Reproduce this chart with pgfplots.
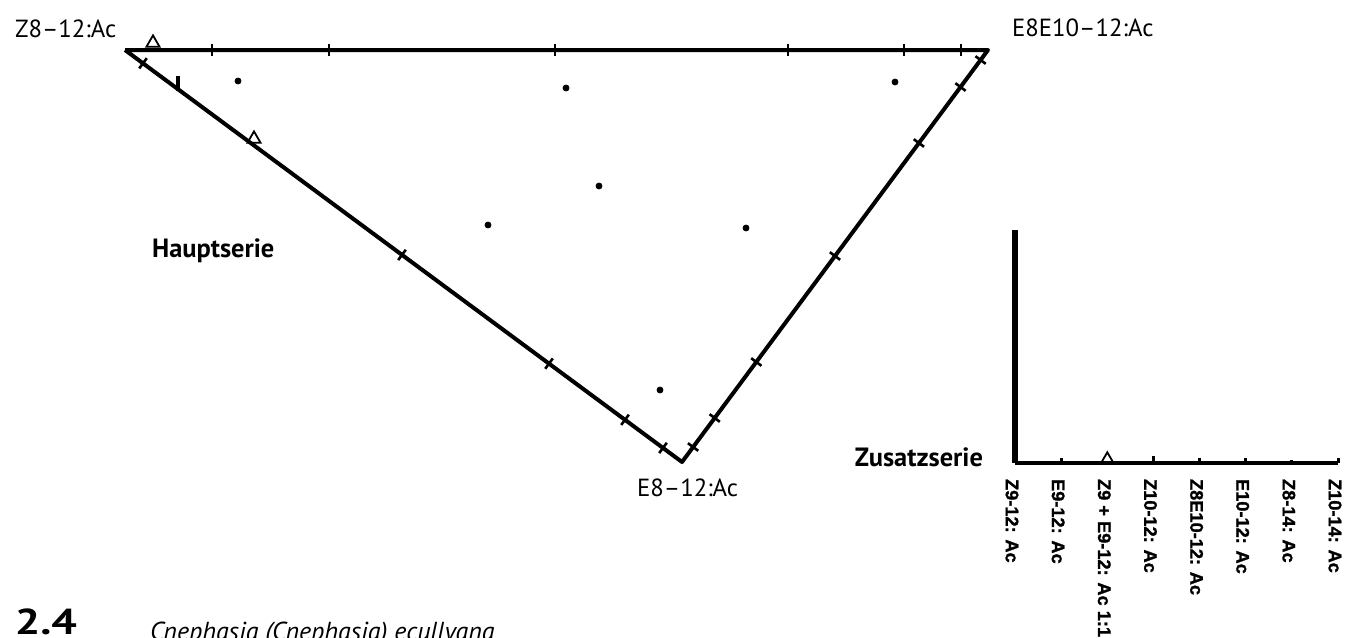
\documentclass[border=0pt]{standalone}
\usepackage{pgfplots}
\pgfplotsset{compat=1.18}
\usepackage{fontspec}
\setmainfont{PT Sans}
\newfontfamily\labfont[FakeBold=1.2]{Liberation Sans Bold}

% picture is laid out in reference pixels, 1px = 0.5pt
\begin{document}
\begin{tikzpicture}
\useasboundingbox (0,0) rectangle (676.5pt,318.5pt);
\clip (0,0) rectangle (676.5pt,318.5pt);

% Hauptserie: triangle diagram
\begin{axis}[
    at={(0pt,0pt)}, anchor=south west,
    scale only axis, width=676.5pt, height=318.5pt,
    xmin=0, xmax=1353, ymin=0, ymax=637,
    y dir=reverse,
    hide axis, clip=false,
]
\addplot[black, line width=2pt, line join=round] coordinates {
    (125,50) (988,50) (682,462) (125,50)
};
% ticks on top edge
\addplot[only marks, mark=|, mark size=3.2pt, mark options={line width=1.2pt}] coordinates {
    (212,50) (329,50) (555,50) (788,50) (904,50) (961,50)
};
% ticks on left edge
\addplot[only marks, mark=|, mark size=3.2pt, mark options={line width=1.3pt, rotate=-36.5}] coordinates {
    (143,63.3) (402,254.9) (549,363.6) (625,419.8) (663,447.9)
};
% ticks on right edge
\addplot[only marks, mark=|, mark size=3.2pt, mark options={line width=1.3pt, rotate=53.4}] coordinates {
    (980.6,60) (960.5,87) (918.9,143) (835,256) (756.3,362) (714.7,418) (693.1,447)
};
\addplot[black, line width=2.4pt] coordinates {(178,76) (178,91)};
% open triangles
\addplot[only marks, mark=triangle, mark size=3.8pt, mark options={fill=white, line width=0.9pt}] coordinates {
    (153,43) (254,139)
};
% dots
\addplot[only marks, mark=*, mark size=1.5pt] coordinates {
    (238,81) (566,88) (895,82) (599,186) (488,225) (746,228) (660,390)
};

\node[anchor=base west, font=\fontsize{12.4}{14}\selectfont] at (axis cs:8,37) {Z8–12:Ac};
\node[anchor=base west, font=\fontsize{12.4}{14}\selectfont] at (axis cs:1005,36) {E8E10–12:Ac};
\node[anchor=base west, font=\fontsize{12.4}{14}\selectfont] at (axis cs:630,496) {E8–12:Ac};
\node[anchor=base west, font=\bfseries\fontsize{13.2}{15}\selectfont] at (axis cs:145,257) {Hauptserie};
\node[anchor=base east, font=\bfseries\fontsize{13.2}{15}\selectfont] at (axis cs:990,466) {Zusatzserie};
\node[anchor=base west, xscale=1.25, font=\bfseries\fontsize{18}{20}\selectfont] at (axis cs:6,634) {2.4};
\node[anchor=base west, font=\itshape\fontsize{13}{15}\selectfont] at (axis cs:143,640) {Cnephasia (Cnephasia) ecullyana};
\end{axis}

% Zusatzserie: small comb chart
\begin{axis}[
    at={(507.5pt,87pt)}, anchor=south west,
    scale only axis, width=161.5pt, height=116.5pt,
    xmin=0, xmax=7, ymin=0, ymax=100,
    axis x line=bottom, axis y line=none,
    axis line style={-, line width=1.8pt},
    xtick={0,...,7},
    xticklabels={Z9-12: Ac, E9-12: Ac, Z9 + E9-12: Ac 1:1, Z10-12: Ac, Z8E10-12: Ac, E10-12: Ac, Z8-14: Ac, Z10-14: Ac},
    major tick length=0pt,
    xticklabel style={rotate=-90, anchor=west, xshift=4.5pt, yshift=-1.5pt, font=\labfont\fontsize{9.1}{10}\selectfont},
    clip=false,
]
\addplot[ycomb, black, line width=2.8pt] coordinates {(0,100)};
\addplot[ycomb, black, line width=1.5pt, mark=none] coordinates {
    (1,2) (3,3) (4,2) (5,2.2) (6,1.5) (7,2)
};
\addplot[only marks, mark=triangle, mark size=3.5pt, mark options={fill=white, line width=0.9pt}] coordinates {(2,1.6)};
\end{axis}
\end{tikzpicture}
\end{document}
